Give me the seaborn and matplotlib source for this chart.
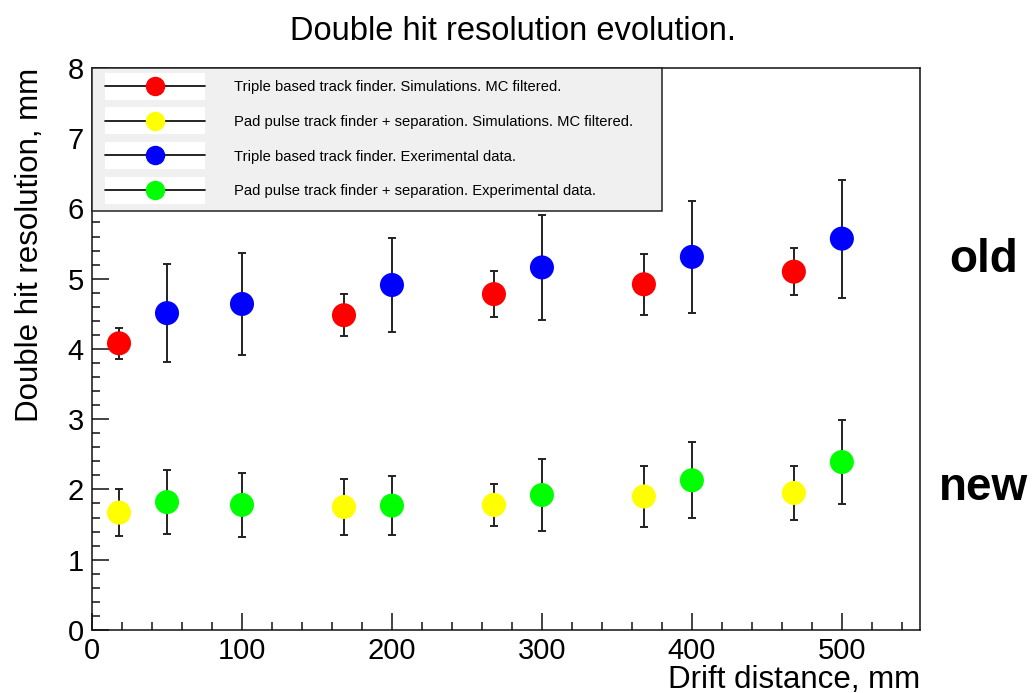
import seaborn as sns
import pandas as pd
import matplotlib.pyplot as plt
import numpy as np
from matplotlib.lines import Line2D
from matplotlib.patches import Rectangle
from matplotlib.legend_handler import HandlerLine2D
from matplotlib.ticker import MultipleLocator

# --- data ---
sim_x = [18, 168, 268, 368, 468]
exp_x = [50, 100, 200, 300, 400, 500]

triple_sim = [4.08, 4.48, 4.78, 4.92, 5.10]
triple_sim_err = [0.22, 0.30, 0.33, 0.43, 0.33]

pad_sim = [1.67, 1.75, 1.78, 1.90, 1.95]
pad_sim_err = [0.33, 0.40, 0.30, 0.44, 0.39]

triple_exp = [4.51, 4.64, 4.91, 5.16, 5.31, 5.57]
triple_exp_err = [0.70, 0.72, 0.67, 0.75, 0.80, 0.84]

pad_exp = [1.82, 1.78, 1.77, 1.92, 2.13, 2.39]
pad_exp_err = [0.45, 0.45, 0.42, 0.51, 0.54, 0.60]

labels = ['Triple based track finder. Simulations. MC filtered.',
          'Pad pulse track finder + separation. Simulations. MC filtered.',
          'Triple based track finder. Exerimental data.',
          'Pad pulse track finder + separation. Experimental data.']
colors = ['#ff0000', '#ffff00', '#0000ff', '#00ff00']

series = [(sim_x, triple_sim, triple_sim_err),
          (sim_x, pad_sim, pad_sim_err),
          (exp_x, triple_exp, triple_exp_err),
          (exp_x, pad_exp, pad_exp_err)]

rows = []
for lab, (xs, ys, es) in zip(labels, series):
    for x, y, e in zip(xs, ys, es):
        rows.append({'drift': x, 'res': y, 'err': e, 'series': lab})
df = pd.DataFrame(rows)

sns.set_style('ticks')
plt.rcParams['font.family'] = ['Liberation Sans', 'DejaVu Sans']
plt.rcParams['text.color'] = 'black'
plt.rcParams['axes.labelcolor'] = 'black'

fig = plt.figure(figsize=(10.34, 6.93), dpi=100)
ax = fig.add_axes([0.089, 0.091, 0.8006, 0.811])

# error bars first, markers on top
ax.errorbar(df['drift'], df['res'], yerr=df['err'], fmt='none',
            ecolor='#222222', elinewidth=1.4, capsize=3, capthick=1.4, zorder=2)
sns.scatterplot(data=df, x='drift', y='res', hue='series', hue_order=labels,
                palette=colors, s=300, edgecolor='none', legend=False,
                ax=ax, zorder=3)

ax.set_xlim(0, 552)
ax.set_ylim(0, 8)
ax.xaxis.set_major_locator(MultipleLocator(100))
ax.xaxis.set_minor_locator(MultipleLocator(20))
ax.yaxis.set_major_locator(MultipleLocator(1))
ax.yaxis.set_minor_locator(MultipleLocator(0.2))
ax.tick_params(which='both', direction='in', width=1.1, color='#111111',
               labelcolor='black', top=False, right=False)
ax.tick_params(which='major', length=12, labelsize=21)
ax.tick_params(axis='x', which='major', pad=5)
ax.tick_params(axis='y', which='major', pad=6)
ax.tick_params(which='minor', length=6)
for sp in ax.spines.values():
    sp.set_linewidth(1.1)
    sp.set_color('#111111')

ax.set_title('Double hit resolution evolution.', fontsize=23.5, pad=20, x=0.508)
ax.set_xlabel('Drift distance, mm', fontsize=22.5, ha='right', va='top')
ax.xaxis.set_label_coords(1.0, -0.0623)
ax.set_ylabel('Double hit resolution, mm', fontsize=22.5, loc='top', labelpad=16)


class BoxedHandler(HandlerLine2D):
    def create_artists(self, legend, orig_handle, xdescent, ydescent,
                       width, height, fontsize, trans):
        box = Rectangle((-xdescent, -ydescent - 0.8 * height), width, 2.6 * height,
                        facecolor='white', edgecolor='none', transform=trans)
        arts = super().create_artists(legend, orig_handle, xdescent, ydescent,
                                      width, height, fontsize, trans)
        return [box] + list(arts)


handles = [Line2D([], [], color='black', lw=1.2, marker='o', markersize=13,
                  markerfacecolor=c, markeredgecolor=c) for c in colors]
leg = ax.legend(handles, labels, loc='upper left', bbox_to_anchor=(0, 1, 0.688, 0),
                mode='expand', borderaxespad=0, fontsize=10.6, frameon=True,
                fancybox=False, facecolor='#f0f0f0', edgecolor='#222222',
                framealpha=1, handlelength=6.8, handletextpad=2.0,
                labelspacing=1.4, borderpad=0.85,
                handler_map={Line2D: BoxedHandler()})
leg.get_frame().set_linewidth(1.1)
leg.set_zorder(5)

fig.text(0.951, 0.625, 'old', fontsize=33, fontweight='bold', ha='center', va='center')
fig.text(0.951, 0.296, 'new', fontsize=33, fontweight='bold', ha='center', va='center')

plt.savefig('out.png', dpi=100)
